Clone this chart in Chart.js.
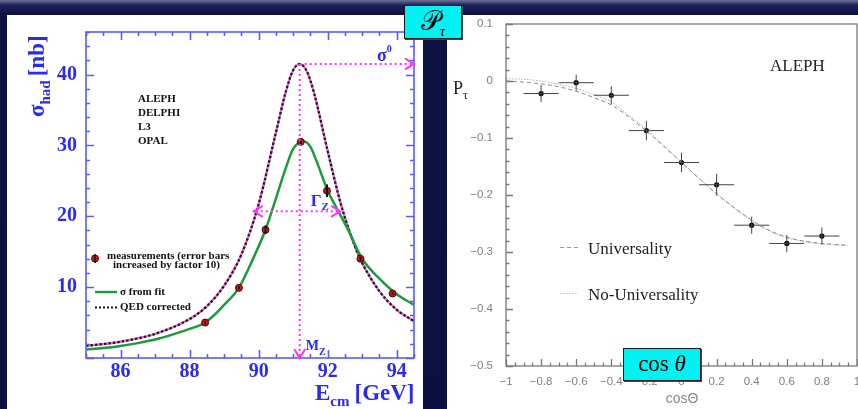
<!doctype html>
<html lang="en">
<head>
<meta charset="UTF-8" />
<title>Z lineshape and tau polarisation</title>
<script src="https://cdn.jsdelivr.net/npm/chart.js"></script>
<style>
  html, body { margin: 0; padding: 0; }
  body {
    width: 858px; height: 409px; overflow: hidden; position: relative;
    background: linear-gradient(#6d7396 0px, #1d235a 5px, #0d1243 14px, #0b1040 100%);
  }
  .panel { position: absolute; background: #fff; overflow: hidden; }
  #leftPanel { left: 7px; top: 15px; width: 416px; height: 394px; }
  #rightPanel { left: 447px; top: 15px; width: 411px; height: 394px; }
  canvas { display: block; position: absolute; left: 0; }
  #lineshape { top: -4px; }
  #polar { top: -12px; }
  .tag {
    position: absolute; background: #00f2f2; border: 1.5px solid #1a1a1a;
    box-shadow: 1px 1px 0 #444; color: #000; text-align: center;
    font-family: "Liberation Serif", serif;
  }
  #ptag { left: 404px; top: 5px; width: 56px; height: 32px; font-size: 27px; line-height: 30px; }
  #ptag sub { font-size: 15px; font-style: italic; }
  #costag { left: 623px; top: 348px; width: 76px; height: 31px; font-size: 23px; line-height: 30px; }
</style>
</head>
<body>
<div id="leftPanel" class="panel"><canvas id="lineshape" width="416" height="398"></canvas></div>
<div id="rightPanel" class="panel"><canvas id="polar" width="431" height="406"></canvas></div>
<div id="ptag" class="tag">𝒫<sub>τ</sub></div>
<div id="costag" class="tag">cos <i>θ</i></div>

<script>
// ---- left plot: hadronic cross section around the Z pole ----
const scanE   = [88.45, 89.43, 90.20, 91.22, 91.98, 92.95, 93.88];
const scanSig = [5.0, 9.9, 18.1, 30.5, 23.6, 14.0, 9.1];
const scanErr = [0.2, 0.2, 0.6, 0.3, 0.9, 0.3, 0.2];

const fitE   = [85, 85.5, 86, 86.5, 87, 87.5, 88, 88.45, 88.7, 89, 89.43, 89.8, 90.2, 90.5, 90.8, 91.0, 91.3, 91.5, 91.7, 92.0, 92.3, 92.6, 93.0, 93.5, 94.0, 94.5];
const fitSig = [1.2, 1.4, 1.7, 2.1, 2.6, 3.3, 4.1, 5.0, 6.0, 7.5, 9.9, 13.6, 18.1, 22.5, 27.0, 29.5, 30.6, 29.8, 27.5, 23.6, 20.8, 18.0, 14.0, 11.2, 9.0, 7.5];

const qedE   = [85, 86, 87, 88, 88.5, 89, 89.5, 90, 90.5, 90.8, 91.0, 91.19, 91.4, 91.6, 92.0, 92.4, 92.8, 93.0, 93.5, 94.0, 94.5];
const qedSig = [1.7, 2.3, 3.4, 5.5, 7.3, 10.2, 14.6, 21.7, 31.8, 37.8, 40.6, 41.5, 40.4, 37.5, 29.2, 21.4, 15.6, 13.4, 9.4, 6.8, 5.2];

const eTicks   = [86, 88, 90, 92, 94];
const sigTicks = [10, 20, 30, 40];
const experiments = ['ALEPH', 'DELPHI', 'L3', 'OPAL'];

// markers for the peak, mass and width
const mZ = 91.19, sigma0 = 41.5;
const halfMax = 20.7, gammaLo = 89.86, gammaHi = 92.36;

// ---- right plot: tau polarisation vs cos(theta) ----
const cosBins = [-0.8, -0.6, -0.4, -0.2, 0, 0.2, 0.4, 0.6, 0.8];
const ptau    = [-0.022, -0.003, -0.025, -0.087, -0.143, -0.182, -0.253, -0.285, -0.272];
const ptauErr = [0.015, 0.014, 0.016, 0.017, 0.017, 0.019, 0.015, 0.015, 0.015];
const binHalf = 0.1;

const curveCos = [-1, -0.9, -0.8, -0.7, -0.6, -0.5, -0.4, -0.3, -0.2, -0.1, 0, 0.1, 0.2, 0.3, 0.4, 0.5, 0.6, 0.7, 0.8, 0.9, 0.95];
const univ     = [0.0, -0.002, -0.005, -0.010, -0.018, -0.029, -0.042, -0.063, -0.088, -0.115, -0.143, -0.171, -0.198, -0.222, -0.244, -0.262, -0.274, -0.281, -0.285, -0.287, -0.288];
const nonUniv  = [0.004, 0.003, 0.0, -0.006, -0.013, -0.024, -0.037, -0.060, -0.085, -0.113, -0.142, -0.171, -0.198, -0.223, -0.245, -0.263, -0.275, -0.282, -0.286, -0.288, -0.289];

const cosTicks  = [-1, -0.8, -0.6, -0.4, -0.2, 0, 0.2, 0.4, 0.6, 0.8, 1];
const ptauTicks = [0.1, 0, -0.1, -0.2, -0.3, -0.4, -0.5];

const blue = '#2a2af0';
const frameBlue = '#5a5aff';
const magenta = '#ff33ff';
const serif = '"Liberation Serif", "DejaVu Serif", serif';
const sans = '"Liberation Sans", "DejaVu Sans", sans-serif';

function pts(xs, ys) { return xs.map((x, i) => ({ x: x, y: ys[i] })); }

function isMajor(v, step) { return Math.abs(v / step - Math.round(v / step)) < 1e-6; }

/* inward tick marks, drawn through the chart's own scales */
function drawTicks(chart, o) {
  const ctx = chart.ctx, a = chart.chartArea, xs = chart.scales.x, ys = chart.scales.y;
  ctx.save();
  ctx.strokeStyle = o.color; ctx.lineWidth = o.width;
  ctx.beginPath();
  for (let v = o.xFrom; v <= o.xTo + 1e-9; v += o.xStep) {
    const p = Math.round(xs.getPixelForValue(v)) + 0.5;
    const L = isMajor(v, o.xMajor) ? o.major : o.minor;
    ctx.moveTo(p, a.bottom); ctx.lineTo(p, a.bottom - L);
    if (o.all) { ctx.moveTo(p, a.top); ctx.lineTo(p, a.top + L); }
  }
  for (let v = o.yFrom; v <= o.yTo + 1e-9; v += o.yStep) {
    const p = Math.round(ys.getPixelForValue(v)) + 0.5;
    const L = isMajor(v, o.yMajor) ? o.major : o.minor;
    ctx.moveTo(a.left, p); ctx.lineTo(a.left + L, p);
    if (o.all) { ctx.moveTo(a.right, p); ctx.lineTo(a.right - L, p); }
  }
  ctx.stroke();
  ctx.strokeRect(a.left, a.top, a.right - a.left, a.bottom - a.top);
  ctx.restore();
}

/* text with a sub/superscript piece */
function rich(ctx, parts, x, y) {
  parts.forEach(p => {
    ctx.font = p.font;
    ctx.fillText(p.t, x, y + (p.dy || 0));
    x += ctx.measureText(p.t).width + (p.gap || 0);
  });
}

function chevron(ctx, tx, ty, dx, dy) {
  // dx,dy: direction the arrow points
  const L = 9, W = 5.5;
  ctx.beginPath();
  ctx.moveTo(tx - dx * L - dy * W, ty - dy * L - dx * W);
  ctx.lineTo(tx, ty);
  ctx.lineTo(tx - dx * L + dy * W, ty - dy * L + dx * W);
  ctx.stroke();
}

const leftDecor = {
  id: 'leftDecor',
  afterDatasetsDraw(chart) {
    const ctx = chart.ctx, a = chart.chartArea, xs = chart.scales.x, ys = chart.scales.y;

    drawTicks(chart, { color: frameBlue, width: 1.6, major: 8, minor: 4, all: true,
      xFrom: 85, xTo: 94.5, xStep: 0.5, xMajor: 2, yFrom: 0, yTo: 46, yStep: 2, yMajor: 10 });

    // error bars on the measurements
    ctx.save();
    ctx.strokeStyle = '#111'; ctx.lineWidth = 2;
    scanE.forEach((e, i) => {
      const px = xs.getPixelForValue(e);
      ctx.beginPath();
      ctx.moveTo(px, ys.getPixelForValue(scanSig[i] - scanErr[i]));
      ctx.lineTo(px, ys.getPixelForValue(scanSig[i] + scanErr[i]));
      ctx.stroke();
    });

    // magenta guide lines
    const xPk = xs.getPixelForValue(mZ), yPk = ys.getPixelForValue(sigma0);
    const yH = ys.getPixelForValue(halfMax);
    const xL = xs.getPixelForValue(gammaLo), xR = xs.getPixelForValue(gammaHi);
    ctx.strokeStyle = magenta; ctx.lineWidth = 2; ctx.setLineDash([2, 3]);
    ctx.beginPath();
    ctx.moveTo(xPk, yPk); ctx.lineTo(a.right - 2, yPk);
    ctx.moveTo(xPk, yPk); ctx.lineTo(xPk, a.bottom - 2);
    ctx.moveTo(xL + 2, yH); ctx.lineTo(xR - 2, yH);
    ctx.stroke();
    ctx.setLineDash([]);
    chevron(ctx, a.right, yPk, 1, 0);
    chevron(ctx, xPk, a.bottom, 0, 1);
    chevron(ctx, xL, yH, -1, 0);
    chevron(ctx, xR, yH, 1, 0);

    ctx.fillStyle = blue; ctx.textBaseline = 'alphabetic'; ctx.textAlign = 'left';
    rich(ctx, [{ t: 'σ', font: 'bold 18px ' + serif }, { t: '0', font: 'bold 10px ' + serif, dy: -9 }], a.right - 37, yPk - 3);
    rich(ctx, [{ t: 'Γ', font: 'bold 17px ' + serif }, { t: 'Z', font: 'bold 11px ' + serif, dy: 4 }], xPk + 11, yH - 5);
    rich(ctx, [{ t: 'M', font: 'bold 14px ' + serif }, { t: 'Z', font: 'bold 10px ' + serif, dy: 5 }], xPk + 6, a.bottom - 8);

    // fixed-position texts (panel coordinates, canvas sits 4px higher)
    ctx.translate(0, 4);
    ctx.fillStyle = '#111'; ctx.textBaseline = 'middle';
    ctx.font = 'bold 11px ' + serif;
    experiments.forEach((t, i) => ctx.fillText(t, 131, 84.5 + i * 13.8));

    // legend
    ctx.fillStyle = '#d01818'; ctx.strokeStyle = '#3a0a0a'; ctx.lineWidth = 1;
    ctx.beginPath(); ctx.arc(88, 243.5, 3.5, 0, Math.PI * 2); ctx.fill(); ctx.stroke();
    ctx.strokeStyle = '#111'; ctx.lineWidth = 1.5;
    ctx.beginPath(); ctx.moveTo(88, 239); ctx.lineTo(88, 248); ctx.stroke();
    ctx.fillStyle = '#111';
    ctx.fillText('measurements (error bars', 100, 241);
    ctx.fillText('increased by factor 10)', 106, 250);
    ctx.strokeStyle = '#1d9b3a'; ctx.lineWidth = 2.4;
    ctx.beginPath(); ctx.moveTo(88, 277); ctx.lineTo(110, 277); ctx.stroke();
    ctx.strokeStyle = '#111'; ctx.lineWidth = 2; ctx.setLineDash([2, 2]);
    ctx.beginPath(); ctx.moveTo(88, 292.5); ctx.lineTo(111, 292.5); ctx.stroke();
    ctx.setLineDash([]);
    ctx.fillText('σ from fit', 113, 277);
    ctx.fillText('QED corrected', 113, 292.5);

    // axis titles
    ctx.fillStyle = blue; ctx.textBaseline = 'alphabetic';
    rich(ctx, [{ t: 'E', font: 'bold 23px ' + serif }, { t: 'cm', font: 'bold 15px ' + serif, dy: 6, gap: 5 },
               { t: '[GeV]', font: 'bold 23px ' + serif }], 308, 385);
    ctx.save();
    ctx.translate(37, 102);
    ctx.rotate(-Math.PI / 2);
    rich(ctx, [{ t: 'σ', font: 'bold 23px ' + serif }, { t: 'had', font: 'bold 15px ' + serif, dy: 6, gap: 4 },
               { t: '[nb]', font: 'bold 23px ' + serif }], 0, 0);
    ctx.restore();
    ctx.restore();
  }
};

new Chart(document.getElementById('lineshape'), {
  type: 'line',
  data: {
    datasets: [
      { label: 'QED corrected', data: pts(qedE, qedSig), borderColor: '#f070d8', borderWidth: 2.4,
        pointRadius: 0, cubicInterpolationMode: 'monotone', order: 3 },
      { label: 'QED corrected', data: pts(qedE, qedSig), borderColor: '#1a1a1a', borderWidth: 2.2,
        borderDash: [2.5, 2], pointRadius: 0, cubicInterpolationMode: 'monotone', order: 2 },
      { label: 'σ from fit', data: pts(fitE, fitSig), borderColor: '#1d9b3a', borderWidth: 2.5,
        pointRadius: 0, cubicInterpolationMode: 'monotone', order: 1 },
      { type: 'scatter', label: 'measurements', data: pts(scanE, scanSig), pointRadius: 3.5,
        pointBackgroundColor: '#d01818', pointBorderColor: '#3a0a0a', pointBorderWidth: 1, order: 0 }
    ]
  },
  options: {
    responsive: false, animation: false,
    layout: { padding: { top: 21, right: 9, left: 0, bottom: 0 } },
    plugins: { legend: { display: false }, tooltip: { enabled: false } },
    scales: {
      x: {
        type: 'linear', min: 85, max: 94.5,
        afterBuildTicks: s => { s.ticks = eTicks.map(v => ({ value: v })); },
        afterFit: s => { s.height = 51; },
        grid: { display: false, drawTicks: false }, border: { display: false },
        ticks: { color: blue, padding: 2, maxRotation: 0, font: { family: serif, size: 20, weight: 'bold' } }
      },
      y: {
        type: 'linear', min: 0, max: 46,
        afterBuildTicks: s => { s.ticks = sigTicks.map(v => ({ value: v })); },
        afterFit: s => { s.width = 79; },
        grid: { display: false, drawTicks: false }, border: { display: false },
        ticks: { color: blue, padding: 9, font: { family: serif, size: 20, weight: 'bold' } }
      }
    }
  },
  plugins: [leftDecor]
});

function fmt(v) {
  const r = Math.round(v * 10) / 10;
  if (r === 0) return '0';
  return (r < 0 ? '\u2212' : '') + String(Math.abs(r));
}

const rightDecor = {
  id: 'rightDecor',
  afterDatasetsDraw(chart) {
    const ctx = chart.ctx, xs = chart.scales.x, ys = chart.scales.y;
    drawTicks(chart, { color: '#7a7a7a', width: 1.3, major: 7, minor: 3.5, all: false,
      xFrom: -1, xTo: 1, xStep: 0.05, xMajor: 0.2, yFrom: -0.5, yTo: 0.1, yStep: 0.02, yMajor: 0.1 });

    ctx.save();
    ctx.strokeStyle = '#444'; ctx.lineWidth = 1;
    cosBins.forEach((c, i) => {
      const px = xs.getPixelForValue(c), py = ys.getPixelForValue(ptau[i]);
      ctx.beginPath();
      ctx.moveTo(xs.getPixelForValue(c - binHalf), py); ctx.lineTo(xs.getPixelForValue(c + binHalf), py);
      ctx.moveTo(px, ys.getPixelForValue(ptau[i] - ptauErr[i])); ctx.lineTo(px, ys.getPixelForValue(ptau[i] + ptauErr[i]));
      ctx.stroke();
    });

    // fixed-position texts (panel coordinates, canvas sits 12px higher)
    ctx.translate(0, 12);
    ctx.fillStyle = '#222'; ctx.textBaseline = 'alphabetic'; ctx.textAlign = 'left';
    ctx.font = '17px ' + serif;
    ctx.fillText('ALEPH', 323, 56);
    ctx.fillText('Universality', 141, 239);
    ctx.fillText('No-Universality', 141, 285);
    ctx.strokeStyle = '#999'; ctx.lineWidth = 1;
    ctx.setLineDash([4, 3]);
    ctx.beginPath(); ctx.moveTo(113, 232.5); ctx.lineTo(131, 232.5); ctx.stroke();
    ctx.strokeStyle = '#bbb'; ctx.setLineDash([1.5, 1.5]);
    ctx.beginPath(); ctx.moveTo(113, 278.5); ctx.lineTo(131, 278.5); ctx.stroke();
    ctx.setLineDash([]);

    rich(ctx, [{ t: 'P', font: '18px ' + serif }, { t: 'τ', font: '12px ' + serif, dy: 5 }], 6, 79);
    ctx.fillStyle = '#888'; ctx.textAlign = 'center';
    ctx.font = '14px ' + sans;
    ctx.fillText('cosΘ', 235, 388);
    ctx.restore();
  }
};

new Chart(document.getElementById('polar'), {
  type: 'line',
  data: {
    datasets: [
      { label: 'Universality', data: pts(curveCos, univ), borderColor: '#8a8a8a', borderWidth: 1,
        borderDash: [4, 3], pointRadius: 0, cubicInterpolationMode: 'monotone' },
      { label: 'No-Universality', data: pts(curveCos, nonUniv), borderColor: '#b0b0b0', borderWidth: 1,
        borderDash: [1.5, 1.5], pointRadius: 0, cubicInterpolationMode: 'monotone' },
      { type: 'scatter', label: 'ALEPH', data: pts(cosBins, ptau), pointRadius: 2.6,
        pointBackgroundColor: '#000', pointBorderColor: '#000', pointBorderWidth: 0 }
    ]
  },
  options: {
    responsive: false, animation: false,
    layout: { padding: { top: 21, right: 21, left: 0, bottom: 0 } },
    plugins: { legend: { display: false }, tooltip: { enabled: false } },
    scales: {
      x: {
        type: 'linear', min: -1, max: 1,
        afterBuildTicks: s => { s.ticks = cosTicks.map(v => ({ value: v })); },
        afterFit: s => { s.height = 43; },
        grid: { display: false, drawTicks: false }, border: { display: false },
        ticks: { color: '#808080', padding: 9, maxRotation: 0, callback: fmt, font: { family: sans, size: 11.5 } }
      },
      y: {
        type: 'linear', min: -0.5, max: 0.1,
        afterBuildTicks: s => { s.ticks = ptauTicks.map(v => ({ value: v })); },
        afterFit: s => { s.width = 59; },
        grid: { display: false, drawTicks: false }, border: { display: false },
        ticks: { color: '#808080', padding: 13, callback: fmt, font: { family: sans, size: 11.5 } }
      }
    }
  },
  plugins: [rightDecor]
});
</script>
</body>
</html>
